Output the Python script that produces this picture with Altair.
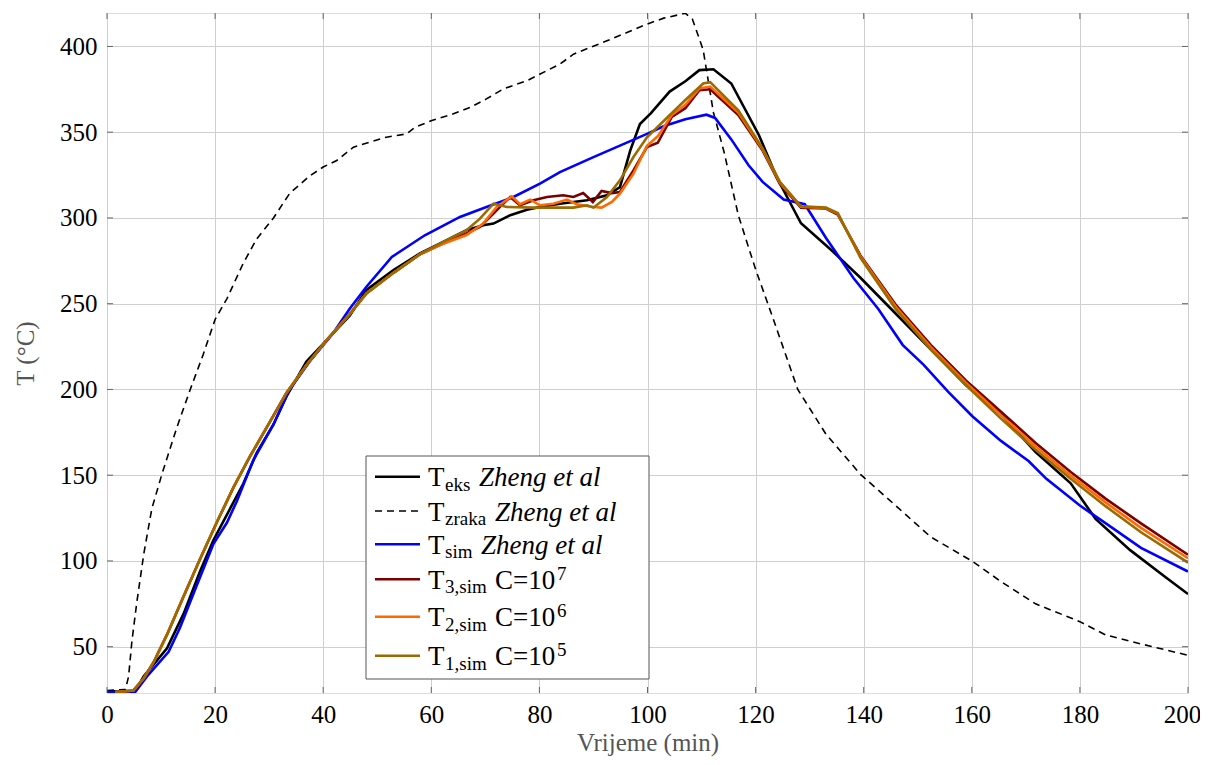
import altair as alt
import pandas as pd

# ---------------- data ----------------
eks_t = [0, 5.2, 6.8, 11.1, 14.2, 17.2, 19.7, 22.8, 25.2, 27.7, 30.8, 33.2, 36.9, 40.6, 44.9, 48, 53, 57.9,
         62.2, 66.5, 69.6, 71.5, 74.6, 77.7, 80.1, 83.8, 88.8, 92.5, 94.9, 96.8, 98.6, 100.6, 104.1, 107,
         109.6, 112.2, 115.5, 120.6, 123.9, 128.4, 134.2, 139.4, 145.9, 152.4, 158.9, 165.4, 171.8, 178.3,
         182.9, 189.3, 195.8, 200]
eks_T = [24, 24, 32.7, 49, 69.4, 93.9, 112.2, 130.6, 145, 163, 179.6, 196, 216.3, 228.6, 243, 258, 269.6, 279.3,
         286, 292.8, 295.7, 296.7, 301.6, 304.8, 306.4, 308.3, 310.3, 313.2, 318, 339.3, 354.8, 361, 373.7, 379.7,
         386.2, 386.7, 378.4, 348.4, 323.7, 296.9, 280.7, 265.1, 244.3, 223.4, 202.6, 185.7, 163.5, 145.3,
         124.5, 106.3, 90.6, 80.7]

zraka_t = [0, 3.4, 4, 4.6, 5.5, 6.8, 8.3, 10.2, 12.9, 15.4, 17.8, 20, 22.2, 25.2, 27.7, 30.8, 33.8, 37.5, 40,
           42.5, 45.6, 48.6, 51.7, 55.4, 57, 60.1, 64.1, 67.2, 70.2, 73.3, 77.7, 81.4, 83.8, 86.3, 89.4, 92.5,
           96.2, 99.9, 103, 107, 108.3, 110.3, 112.2, 114.2, 116.8, 120, 123.2, 127.8, 133, 139.4, 145.9, 152.4,
           160, 165.4, 171.8, 180, 184.8, 191.3, 200]
zraka_T = [24.5, 25, 32.7, 53, 75.5, 104, 130.6, 151, 177.6, 200, 220.4, 240.8, 253, 273.5, 287.8, 300, 314.3,
           324.5, 329.7, 333.5, 341.3, 344.2, 347.1, 349, 352.9, 356.8, 360.7, 364.5, 369.4, 375.2, 380, 385.9,
           389.7, 395.5, 399.4, 403.3, 408.1, 413, 416.5, 419.3, 416, 398, 361.5, 338, 301.6, 270, 241.7, 200,
           174, 150.5, 132.3, 114, 100, 88, 75, 64.6, 56.8, 51.6, 45]

sim_t = [0, 5.2, 7.4, 11.4, 13.5, 16.6, 19.7, 22.2, 24, 27.1, 30.8, 33.8, 37.5, 41.8, 44.9, 48, 52.7, 58.8, 65.3,
         70.2, 75.2, 80.1, 83.8, 90, 94.9, 99.9, 103.1, 107, 110.9, 112.5, 115.5, 118.7, 121.3, 125.2, 129.1,
         133, 138.1, 142.7, 147.2, 151.1, 155.6, 160.1, 165.4, 170.5, 173.8, 180, 184.8, 191.3, 200]
sim_T = [23.5, 23.5, 32.7, 47, 61, 85.7, 110, 122.4, 134.7, 159, 179.6, 200, 216.3, 232.7, 247, 259.9, 277.3,
         289.9, 300.6, 306.4, 312.2, 320, 326.7, 335.5, 342.2, 349, 353.6, 357.6, 360.2, 358.3, 345.8, 330.7,
         321, 310.7, 308, 288.5, 265, 246.9, 226, 214.3, 198.7, 184.4, 170, 158.3, 147.9, 132.3, 121.9, 107.6,
         93.8]

# common early part of the three C-simulations
early_t = [1.5, 4.9, 6.8, 8.6, 11.1, 14.2, 17.2, 20.3, 23.4, 26.5, 29.5, 33.2, 36.9, 40.6, 44.9, 48, 53, 58]
early_T = [23.5, 24.5, 31.6, 40.8, 57, 79.6, 101, 122.4, 142.9, 161.2, 177.6, 198, 214.3, 228.6, 243.9, 256,
           268, 279]

s3_t = early_t + [62.2, 66.5, 69, 71.5, 73.3, 74.6, 76.4, 78.9, 81.4, 84.4, 86.3, 88.1, 89.9, 91.5, 93.4, 94.9,
                  97.4, 99.9, 101.9, 104.5, 107, 109.6, 111.6, 116.8, 121.3, 124.5, 128.4, 133, 135.2, 139.4,
                  145.9, 152.4, 158.9, 165.4, 171.8, 178.3, 184.8, 191.3, 200]
s3_T = early_T + [285, 291, 294.8, 302.5, 308.3, 312.2, 307.4, 310.3, 312.2, 313.2, 312.2, 314.5, 309.3, 315.7,
                  314.5, 315.1, 327.7, 341.3, 343.8, 358.9, 364, 374.5, 375, 360, 339.3, 319.8, 306, 305.5, 302,
                  278.1, 249.5, 226, 205.2, 187, 168.8, 151.8, 136.2, 121.9, 103.6]

s2_t = early_t + [62.2, 66.5, 69.6, 72.1, 74.9, 76.4, 78.3, 80.1, 82.6, 85.1, 86.9, 90, 91.5, 93.4, 94.9, 97.4,
                  99.9, 102, 104.5, 107, 109.6, 111.6, 116.8, 121.3, 124.5, 128.4, 133, 135.2, 139.4, 145.9,
                  152.4, 158.9, 165.4, 171.8, 178.3, 184.8, 191.3, 200]
s2_T = early_T + [285, 290, 296.7, 306.4, 312.6, 308, 310.7, 307.4, 308.3, 310.7, 308, 306.4, 306, 309.3, 314.2,
                  325.8, 342, 348, 360, 366, 375.5, 376.6, 361.5, 340, 320.5, 306.5, 305.8, 302.5, 277.5, 248.3,
                  224.7, 203.9, 185, 166.8, 149.8, 134, 119.3, 101.6]

s1_t = early_t + [62.2, 66.5, 69, 71.5, 74, 78.9, 82.6, 86.3, 88.8, 90, 92.5, 94.9, 97.4, 99.9, 103.8, 107,
                  110.3, 111.6, 116.8, 121.3, 124.5, 128.4, 133, 135.2, 139.4, 145.9, 152.4, 158.9, 165.4, 171.8,
                  178.3, 184.8, 191.3, 200]
s1_T = early_T + [286, 292.8, 299.6, 308.3, 306.4, 306, 306, 306, 307.4, 306, 312.2, 321.9, 335.5, 347, 359,
                  368.8, 378.4, 379.2, 362.8, 340.6, 321, 306.8, 306, 302.9, 276.8, 247, 223.4, 202.6, 183, 164.8,
                  147.9, 131.8, 116.7, 99]

series_names = ["eks", "zraka", "sim", "s3", "s2", "s1"]
series_t = [eks_t, zraka_t, sim_t, s3_t, s2_t, s1_t]
series_T = [eks_T, zraka_T, sim_T, s3_T, s2_T, s1_T]

x_ticks = [0, 20, 40, 60, 80, 100, 120, 140, 160, 180, 200]
y_ticks = [50, 100, 150, 200, 250, 300, 350, 400]

legend_sub = ["eks", "zraka", "sim", "3,sim", "2,sim", "1,sim"]
legend_tail = ["Zheng et al", "Zheng et al", "Zheng et al", "C=10", "C=10", "C=10"]
legend_sup = ["", "", "", "7", "6", "5"]

# ---------------- styles ----------------
colors = ["#000000", "#000000", "#0000ff", "#7a0000", "#ff6a00", "#9c6a00"]
dashes = [None, [7, 5], None, None, None, None]
widths = [2.6, 1.6, 2.6, 2.6, 2.6, 2.6]
FONT = "Liberation Serif"
W, H = 1081, 680

rows = []
for name, ts, Ts in zip(series_names, series_t, series_T):
    for a, b in zip(ts, Ts):
        rows.append({"series": name, "t": a, "T": b})
df = pd.DataFrame(rows)

xscale = alt.Scale(domain=[0, 200], nice=False, zero=False)
yscale = alt.Scale(domain=[23, 419.5], nice=False, zero=False)

xaxis = alt.Axis(values=x_ticks, title="Vrijeme (min)", grid=True, ticks=False, tickSize=0, domain=False,
                 labelFont=FONT, labelFontSize=25, labelColor="black", labelPadding=9,
                 labelOffset={"condition": {"test": "datum.value == 200", "value": -6}, "value": 0},
                 titleFont=FONT, titleFontSize=25, titleFontWeight="normal", titleColor="#555555",
                 titleBaseline="alphabetic", titleY=57, gridColor="#cfcfcf", gridWidth=1, labelFlush=False)
yaxis = alt.Axis(values=y_ticks, title="T (°C)", grid=True, ticks=False, tickSize=0, domain=False,
                 labelFont=FONT, labelFontSize=25, labelColor="black", labelPadding=10,
                 titleFont=FONT, titleFontSize=25, titleFontWeight="normal", titleColor="#555555",
                 titleBaseline="middle", titleX=-82, titleY=H / 2, titleAngle=270,
                 gridColor="#cfcfcf", gridWidth=1)

X = alt.X("t:Q", scale=xscale, axis=xaxis)
Y = alt.Y("T:Q", scale=yscale, axis=yaxis)

base = alt.Chart(df)
layers = []
for i, name in enumerate(series_names):
    kw = dict(color=colors[i], strokeWidth=widths[i], clip=True)
    if dashes[i]:
        kw["strokeDash"] = dashes[i]
    layers.append(base.transform_filter(alt.datum.series == name).mark_line(**kw).encode(x=X, y=Y))

# inner ticks (pgfplots style) on all four sides
xt = alt.Chart(pd.DataFrame({"t": x_ticks}))
yt = alt.Chart(pd.DataFrame({"T": y_ticks}))
tick_color = "#666666"
layers.append(xt.mark_rule(color=tick_color, strokeWidth=1).encode(x=X, y=alt.value(H), y2=alt.value(H - 6)))
layers.append(xt.mark_rule(color=tick_color, strokeWidth=1).encode(x=X, y=alt.value(0), y2=alt.value(6)))
layers.append(yt.mark_rule(color=tick_color, strokeWidth=1).encode(y=Y, x=alt.value(0), x2=alt.value(6)))
layers.append(yt.mark_rule(color=tick_color, strokeWidth=1).encode(y=Y, x=alt.value(W), x2=alt.value(W - 6)))

# ---------------- legend (drawn by hand for sub/superscripts) ----------------
one = alt.Chart(pd.DataFrame({"a": [0]}))
LX0, LX1, LY0, LY1 = 259, 542, 443, 666
layers.append(one.mark_rect(fill="white", stroke="#555555", strokeWidth=1).encode(
    x=alt.value(LX0), x2=alt.value(LX1), y=alt.value(LY0), y2=alt.value(LY1)))

row_y = [463.7, 498, 531.3, 566.3, 603.7, 642.7]
tail_x = [372, 388, 374, 388, 388, 388]
sup_x = 448


def txt(s, x, y, size, style="normal"):
    return one.mark_text(text=s, align="left", baseline="alphabetic", font=FONT, fontSize=size,
                         fontStyle=style, color="black").encode(x=alt.value(x), y=alt.value(y))


for i in range(6):
    kw = dict(color=colors[i], strokeWidth=widths[i])
    if dashes[i]:
        kw["strokeDash"] = dashes[i]
    layers.append(one.mark_rule(**kw).encode(x=alt.value(268), x2=alt.value(313), y=alt.value(row_y[i])))
    bl = row_y[i] + 9.5
    layers.append(txt("T", 321, bl, 27))
    layers.append(txt(legend_sub[i], 338, bl + 4.5, 19))
    if legend_sup[i]:
        layers.append(txt(legend_tail[i], tail_x[i], bl, 27))
        layers.append(txt(legend_sup[i], sup_x + 2, bl - 9, 19))
    else:
        layers.append(txt(legend_tail[i], tail_x[i], bl, 27, "italic"))

chart = alt.layer(*layers).properties(
    width=W, height=H,
    autosize=alt.AutoSizeParams(type="none"),
    padding={"left": 99, "top": 5, "right": 12, "bottom": 64},
).configure_view(stroke="#555555", strokeWidth=1.2).configure(background="white")

chart.save("out.html", embed_options={"renderer": "svg", "actions": False})
